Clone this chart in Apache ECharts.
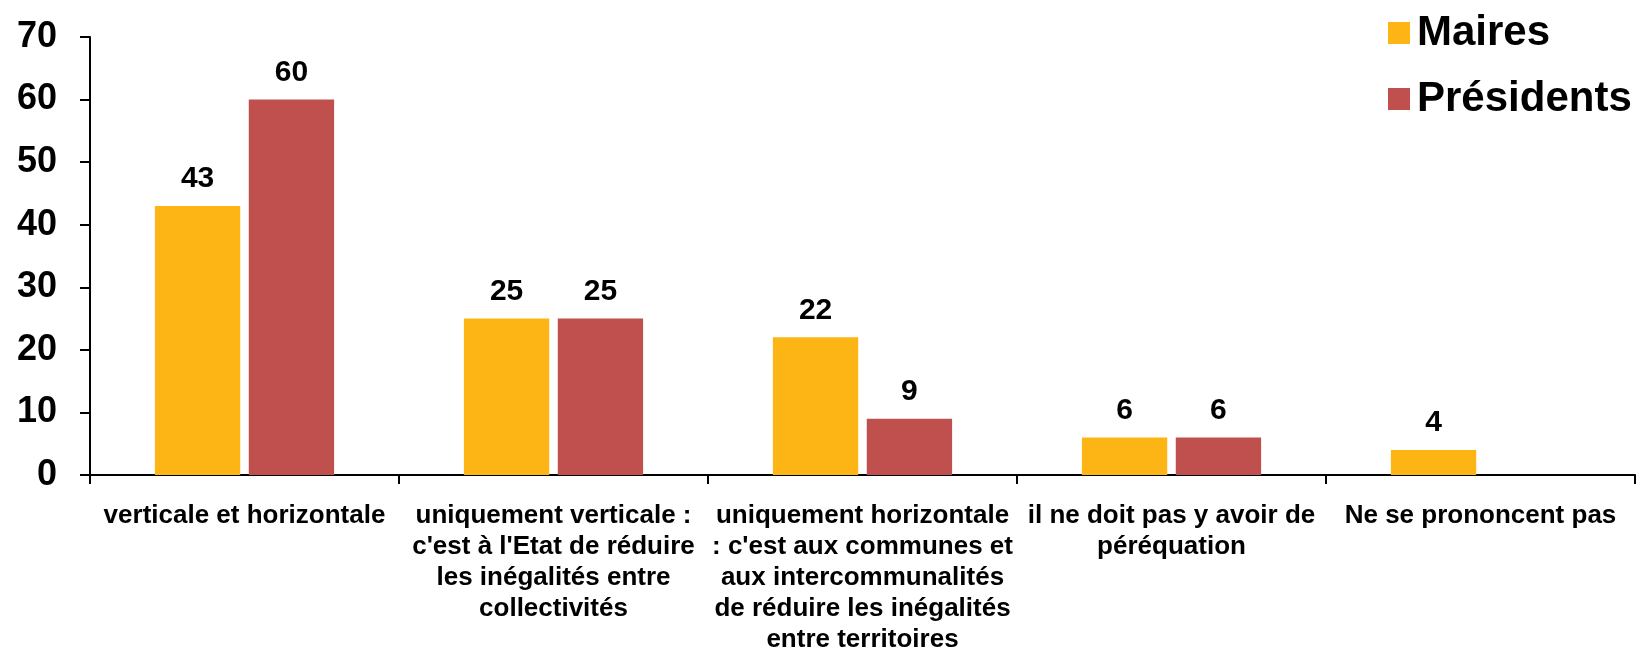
<!DOCTYPE html>
<html>

<head>
    <meta charset="utf-8" />
    <style type="text/css">
        html, body {
            margin: 0;
            padding: 0;
            background: #ffffff;
        }
    </style>
    <script src="https://cdn.jsdelivr.net/npm/echarts@6/dist/echarts.min.js"></script>
</head>

<body>
    <div id="main" style="width: 1638px; height: 653px"></div>
    <script type="text/javascript">
        // catégories (retours à la ligne comme dans l'original)
        var categories = [
            "verticale et horizontale",
            "uniquement verticale :\nc'est à l'Etat de réduire\nles inégalités entre\ncollectivités",
            "uniquement horizontale\n: c'est aux communes et\naux intercommunalités\nde réduire les inégalités\nentre territoires",
            "il ne doit pas y avoir de\npéréquation",
            "Ne se prononcent pas"
        ];
        var maires = [43, 25, 22, 6, 4];
        var presidents = [60, 25, 9, 6, null];
        var seriesNames = ["Maires", "Présidents"];

        var fontFamily = "Liberation Sans, Arial, sans-serif";
        var myChart = echarts.init(document.getElementById("main"));

        var labelStyle = {
            show: true,
            position: "top",
            distance: 12,
            color: "#000",
            fontWeight: "bold",
            fontSize: 30,
            fontFamily: fontFamily
        };

        var option = {
            animation: false,
            color: ["#FDB515", "#C0504D"],
            grid: {
                left: 90,
                right: 3,
                top: 37,
                bottom: 178,
                containLabel: false,
                outerBoundsMode: "none"
            },
            legend: {
                orient: "vertical",
                left: 1383,
                top: 6,
                itemWidth: 22,
                itemHeight: 22,
                itemGap: 22,
                icon: "rect",
                textStyle: {
                    color: "#000",
                    fontWeight: "bold",
                    fontSize: 42,
                    lineHeight: 44,
                    fontFamily: fontFamily,
                    padding: [0, 0, 0, 2]
                },
                data: seriesNames
            },
            xAxis: {
                type: "category",
                data: categories,
                axisLine: { lineStyle: { color: "#000", width: 2 } },
                axisTick: { show: true, length: 9, lineStyle: { color: "#000", width: 2 } },
                axisLabel: {
                    interval: 0,
                    margin: 25,
                    color: "#000",
                    fontWeight: "bold",
                    fontSize: 26,
                    lineHeight: 31,
                    fontFamily: fontFamily,
                    align: "center"
                }
            },
            yAxis: {
                type: "value",
                min: 0,
                max: 70,
                interval: 10,
                splitLine: { show: false },
                axisLine: { show: true, lineStyle: { color: "#000", width: 2 } },
                axisTick: { show: true, length: 10, lineStyle: { color: "#000", width: 2 } },
                axisLabel: {
                    margin: 33,
                    padding: [6, 0, 0, 0],
                    color: "#000",
                    fontWeight: "bold",
                    fontSize: 36,
                    fontFamily: fontFamily
                }
            },
            series: [
                {
                    name: seriesNames[0],
                    type: "bar",
                    data: maires,
                    barGap: "10%",
                    barCategoryGap: "42%",
                    label: labelStyle
                },
                {
                    name: seriesNames[1],
                    type: "bar",
                    data: presidents,
                    label: labelStyle
                }
            ]
        };

        myChart.setOption(option);
    </script>
</body>

</html>
